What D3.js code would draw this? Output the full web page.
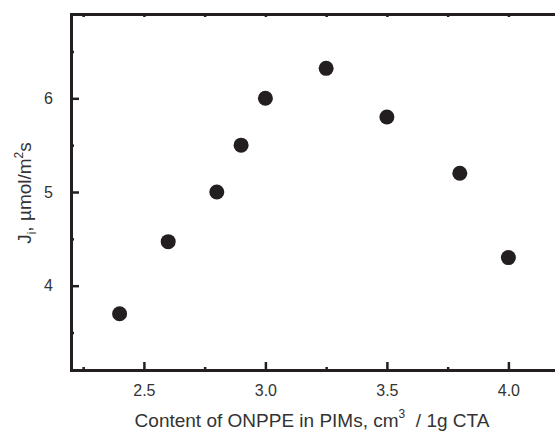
<!doctype html>
<html>
  <head>
    <meta charset="utf-8">
    <script src="https://cdn.jsdelivr.net/npm/d3@7/dist/d3.min.js"></script>
    <style>
      html, body { margin: 0; padding: 0; background: #fff; }
      svg { display: block; font-family: "Liberation Sans", Arial, sans-serif; }
    </style>
  </head>
  <body>
    <div id="chart"></div>
  </body>
  <script>
    // content of ONPPE (cm3 / 1g CTA) and flux J_i (umol/m2 s)
    var contents = [2.4, 2.6, 2.8, 2.9, 3.0, 3.25, 3.5, 3.8, 4.0];
    var fluxes = [3.7, 4.47, 5.0, 5.5, 6.0, 6.32, 5.8, 5.2, 4.3];
    var xTicks = [2.5, 3.0, 3.5, 4.0];
    var xMinorTicks = [2.25, 2.75, 3.25, 3.75];
    var yTicks = [4, 5, 6];
    var yMinorTicks = [3.5, 4.5, 5.5, 6.5];

    var width = 555,
      height = 436,
      margin = {left: 71, top: 14, right: -2, bottom: 66};

    var svg = d3.select("#chart")
                .append("svg")
                .attr("width", width)
                .attr("height", height);

    var x = d3.scaleLinear()
              .domain([2.2, 4.2])
              .range([margin.left, width - margin.right]);

    var y = d3.scaleLinear()
              .domain([3.1, 6.9])
              .range([height - margin.bottom, margin.top]);

    var ink = "#231f20";
    var bottomY = y.range()[0],
      topY = y.range()[1],
      leftX = x.range()[0];

    function addAxis(axis, tx, ty) {
      return svg.append("g")
        .attr("transform", "translate(" + tx + "," + ty + ")")
        .call(axis.tickSizeOuter(0));
    }

    // minor ticks first, then major ticks over them
    addAxis(d3.axisBottom(x).tickValues(xMinorTicks).tickSize(-3).tickFormat(""), 0, bottomY);
    addAxis(d3.axisTop(x).tickValues(xMinorTicks).tickSize(-3).tickFormat(""), 0, topY);
    addAxis(d3.axisLeft(y).tickValues(yMinorTicks).tickSize(-3).tickFormat(""), leftX, 0);

    addAxis(d3.axisBottom(x).tickValues(xTicks).tickSize(-8).tickPadding(15)
              .tickFormat(d3.format(".1f")), 0, bottomY);
    addAxis(d3.axisTop(x).tickValues(xTicks).tickSize(-3).tickFormat(""), 0, topY);
    addAxis(d3.axisLeft(y).tickValues(yTicks).tickSize(-8).tickPadding(18)
              .tickFormat(d3.format("d")), leftX, 0);

    svg.selectAll(".domain")
      .attr("stroke", ink)
      .attr("stroke-width", 3)
      .attr("stroke-linecap", "square");
    svg.selectAll(".tick line")
      .attr("stroke", ink)
      .attr("stroke-width", 2.5);
    svg.selectAll(".tick text")
      .attr("fill", "#333")
      .style("font-size", "16px");

    // points
    svg.append("g")
      .selectAll("circle")
      .data(contents)
      .enter()
      .append("circle")
      .attr("cx", function(d) { return x(d); })
      .attr("cy", function(d, i) { return y(fluxes[i]); })
      .attr("r", 7.5)
      .attr("fill", ink);

    // axis titles
    var xTitle = svg.append("text")
      .attr("x", 312)
      .attr("y", 427)
      .attr("text-anchor", "middle")
      .attr("fill", "#333")
      .style("font-size", "19px");
    xTitle.append("tspan").text("Content of ONPPE in PIMs, cm");
    xTitle.append("tspan").attr("dy", -9).style("font-size", "12px").text("3");
    xTitle.append("tspan").attr("dy", 9).text("\u00a0 / 1g CTA");

    var yTitle = svg.append("text")
      .attr("transform", "translate(31,193) rotate(-90)")
      .attr("text-anchor", "middle")
      .attr("fill", "#333")
      .style("font-size", "19px");
    yTitle.append("tspan").text("J");
    yTitle.append("tspan").attr("dy", 5).style("font-size", "12px").text("i");
    yTitle.append("tspan").attr("dy", -5).text(", \u00b5mol/m");
    yTitle.append("tspan").attr("dy", -8).style("font-size", "12px").text("2");
    yTitle.append("tspan").attr("dy", 8).text("s");
  </script>
</html>
